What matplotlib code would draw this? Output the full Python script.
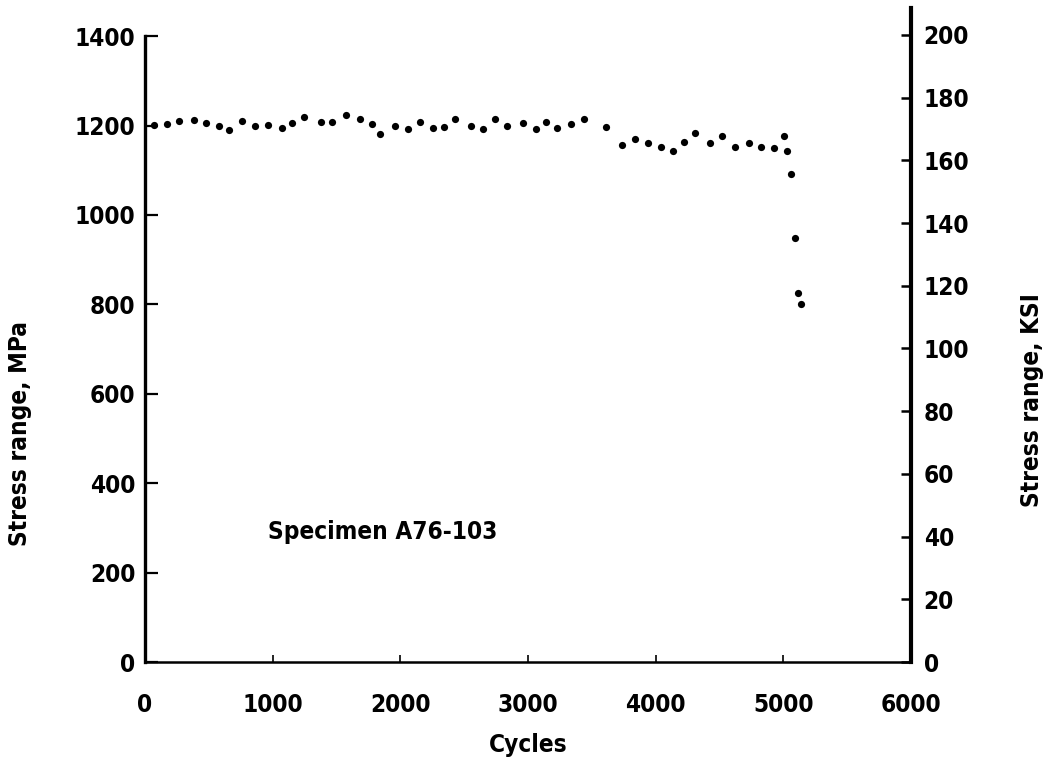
import matplotlib
matplotlib.use("Agg")
import matplotlib.pyplot as plt
from matplotlib import font_manager

# Fatigue test record for specimen A76-103: stress range per cycle count
cycles = [70, 175, 269, 384, 478, 582, 661, 757, 862, 966,
          1071, 1154, 1245, 1376, 1467, 1574, 1684, 1775, 1841, 1958,
          2062, 2154, 2258, 2342, 2428, 2553, 2650, 2741, 2833, 2963,
          3063, 3141, 3225, 3334, 3439, 3611, 3734, 3838, 3942, 4039,
          4138, 4222, 4308, 4425, 4522, 4621, 4731, 4822, 4929, 5005,
          5031, 5057, 5091, 5117, 5136]
stress_mpa = [1201, 1203, 1210, 1213, 1206, 1199, 1189, 1211, 1200, 1201,
              1195, 1205, 1220, 1209, 1209, 1224, 1214, 1203, 1181, 1198,
              1192, 1207, 1195, 1196, 1215, 1199, 1192, 1215, 1199, 1205,
              1192, 1207, 1195, 1203, 1214, 1196, 1157, 1169, 1160, 1151,
              1142, 1163, 1183, 1162, 1177, 1153, 1160, 1151, 1149, 1177,
              1143, 1092, 949, 825, 801]

x_ticks = [0, 1000, 2000, 3000, 4000, 5000, 6000]
mpa_ticks = [0, 200, 400, 600, 800, 1000, 1200, 1400]
ksi_ticks = [0, 20, 40, 60, 80, 100, 120, 140, 160, 180, 200]


def pick_narrow_font():
    """Return the narrowest bold font file found among the installed ones."""
    order = ["extra-condensed", "condensed", "semi-condensed"]
    wanted = ["Noto Sans", "Liberation Sans Narrow", "DejaVu Sans",
              "Roboto", "Open Sans", "Inter", "Lato"]
    fonts = font_manager.fontManager.ttflist
    for stretch in order:
        for name in wanted:
            for f in fonts:
                if f.name != name or f.stretch != stretch:
                    continue
                weight = f.weight if isinstance(f.weight, int) else 400
                if weight == 700 and "Italic" not in f.fname:
                    return f.fname
    return None


narrow_file = pick_narrow_font()
if narrow_file:
    FONT = font_manager.FontProperties(fname=narrow_file, size=17.5)
else:
    FONT = font_manager.FontProperties(family="DejaVu Sans", weight="bold",
                                       size=16)

fig = plt.figure(figsize=(10.54, 7.68), dpi=100)
ax = fig.add_axes([0.1376, 0.1380, 0.7268, 0.8516])

ax.plot(cycles, stress_mpa, "o", color="black", markersize=5.2, markeredgewidth=0)

ax.set_xlim(0, 6000)
ax.set_ylim(0, 1463)
ax.set_xticks(x_ticks)
ax.set_yticks(mpa_ticks)

ax.spines["top"].set_visible(False)
ax.spines["right"].set_visible(False)
ax.spines["left"].set_bounds(0, 1400)
ax.spines["left"].set_linewidth(2.4)
ax.spines["bottom"].set_linewidth(1.8)

ax.tick_params(axis="x", direction="in", length=5, width=1.2, pad=22)
ax.tick_params(axis="y", direction="in", length=9, width=1.6, pad=7)

ax.set_xlabel("Cycles", fontproperties=FONT)
ax.xaxis.set_label_coords(0.5, -0.108)
ax.set_ylabel("Stress range, MPa", fontproperties=FONT)
ax.yaxis.set_label_coords(-0.148, 0.35)

ax.text(963, 291, "Specimen A76-103", fontproperties=FONT,
        ha="left", va="center")

# KSI scale on the right
ax2 = ax.twinx()
ax2.set_ylim(0, 208.6)
ax2.set_yticks(ksi_ticks)
for side in ("top", "left", "bottom"):
    ax2.spines[side].set_visible(False)
ax2.spines["right"].set_linewidth(3.0)
ax2.tick_params(axis="y", direction="in", length=7, width=1.8, pad=9)
ax2.set_ylabel("Stress range, KSI", fontproperties=FONT)
ax2.yaxis.set_label_coords(1.142, 0.40)

for lbl in ax.get_xticklabels() + ax.get_yticklabels() + ax2.get_yticklabels():
    lbl.set_fontproperties(FONT)

fig.savefig("out.png", dpi=100)
